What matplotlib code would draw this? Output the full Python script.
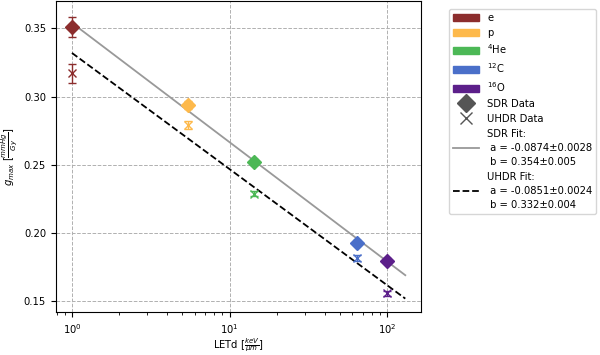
import matplotlib.pyplot as plt
import matplotlib.patches as mpatches
import matplotlib.lines as mlines
import numpy as np

# Данные
particles = ['e', 'p', '$^{4}$He', '$^{12}$C', '$^{16}$O']
colors = ['#8c2d2d', '#fdb94b', '#4cb856', '#4a6fc9', '#5c1f8a']
letd = [1.0, 5.45, 14.3, 64.5, 100.0]
sdr_g = [0.351, 0.294, 0.252, 0.193, 0.180]
sdr_err = [0.007, 0.003, 0.002, 0.002, 0.002]
uhdr_g = [0.317, 0.279, 0.229, 0.182, 0.156]
uhdr_err = [0.007, 0.003, 0.002, 0.002, 0.002]

sdr_fit = (-0.0874, 0.354)
uhdr_fit = (-0.0851, 0.332)
fit_range = [1.0, 130.0]

fs = 7.2

fig = plt.figure(figsize=(6, 3.55), dpi=100)
ax = fig.add_axes([0.093, 0.12, 0.609, 0.877])

# Линии аппроксимации
x_fit = np.logspace(np.log10(fit_range[0]), np.log10(fit_range[1]), 50)
ax.plot(x_fit, sdr_fit[0] * np.log10(x_fit) + sdr_fit[1], color='#999999', lw=1.3, zorder=2)
ax.plot(x_fit, uhdr_fit[0] * np.log10(x_fit) + uhdr_fit[1], color='black', lw=1.3,
        linestyle='--', zorder=2)

# Точки с погрешностями
for i in range(len(particles)):
    ax.errorbar(letd[i], sdr_g[i], yerr=sdr_err[i], fmt='D', color=colors[i],
                ms=7.5, capsize=3, elinewidth=1, zorder=3)
    ax.errorbar(letd[i], uhdr_g[i], yerr=uhdr_err[i], fmt='x', color=colors[i],
                ms=6, capsize=3, elinewidth=1, zorder=3)

ax.set_xscale('log')
ax.set_xlim(0.79, 164)
ax.set_ylim(0.142, 0.37)
ax.set_yticks([0.15, 0.20, 0.25, 0.30, 0.35])
ax.grid(color='#b0b0b0', linestyle='--', linewidth=0.7)
ax.set_xlabel(r'LETd [$\frac{keV}{\mu m}$]', fontsize=fs, labelpad=0.5)
ax.set_ylabel(r'$g_{max}$ [$\frac{mmHg}{Gy}$]', fontsize=fs, labelpad=3)
ax.tick_params(labelsize=fs)

# Легенда
handles = [mpatches.Patch(color=c, label=p) for p, c in zip(particles, colors)]
handles.append(mlines.Line2D([], [], marker='D', color='#555555', linestyle='none',
                             ms=9, label='SDR Data'))
handles.append(mlines.Line2D([], [], marker='x', color='#555555', linestyle='none',
                             ms=9, label='UHDR Data'))
handles.append(mlines.Line2D([], [], color='#999999', lw=1.3,
                             label='SDR Fit:\n a = -0.0874±0.0028\n b = 0.354±0.005'))
handles.append(mlines.Line2D([], [], color='black', lw=1.3, linestyle='--',
                             label='UHDR Fit:\n a = -0.0851±0.0024\n b = 0.332±0.004'))
leg = fig.legend(handles=handles, loc='upper left', bbox_to_anchor=(0.740, 0.99),
                 fontsize=fs, labelspacing=0.5, handlelength=2.6)
for t in leg.get_texts():
    t.set_linespacing(1.5)

plt.savefig('out.png', dpi=100)
plt.close()
